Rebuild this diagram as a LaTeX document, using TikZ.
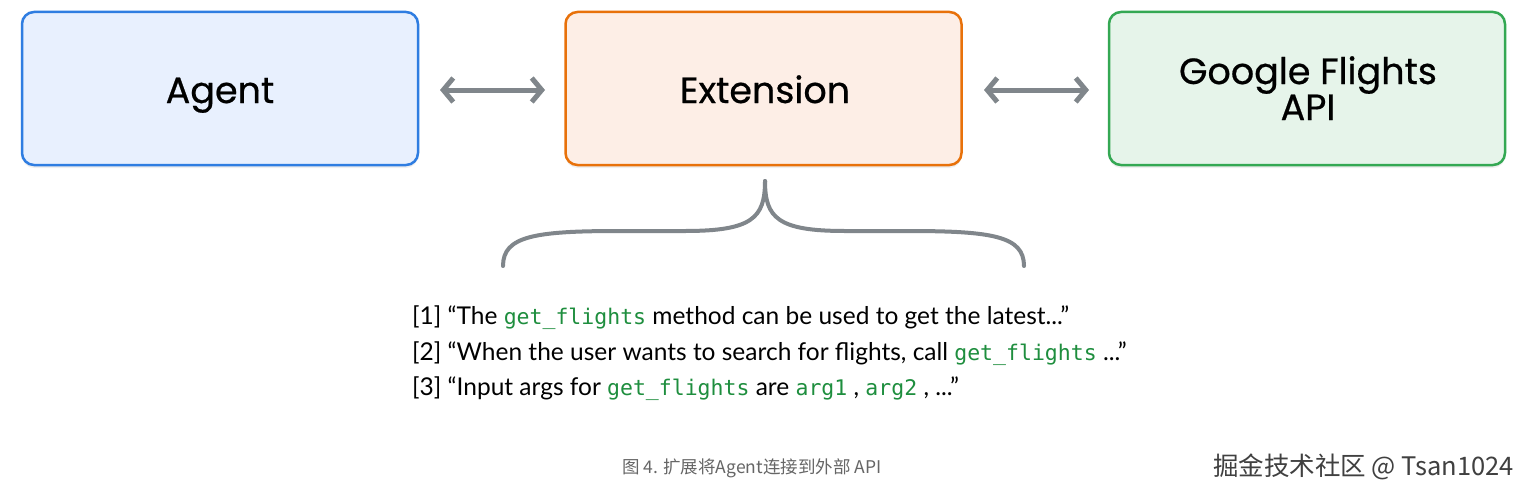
\documentclass[tikz,border=0pt]{standalone}
\usepackage{fontspec}
\setmainfont{Poppins}
\newfontfamily\labelfont[FakeBold=0.6]{Poppins}
\newfontfamily\bodyfont{Lato}
\newfontfamily\monofont{DejaVu Sans Mono}
\newfontfamily\cjkfont{Noto Sans CJK SC}
\usetikzlibrary{arrows.meta,shadows}
\definecolor{blueb}{HTML}{2F7DE1}
\definecolor{bluef}{HTML}{E8F0FE}
\definecolor{orangeb}{HTML}{E8710A}
\definecolor{orangef}{HTML}{FDEEE6}
\definecolor{greenb}{HTML}{34A853}
\definecolor{greenf}{HTML}{E6F4EA}
\definecolor{arrowgray}{HTML}{80868B}
\definecolor{codegreen}{HTML}{1E8E3E}
\definecolor{capgray}{HTML}{666666}
\newcommand{\code}[1]{{\monofont\fontsize{21.5}{24}\selectfont\color{codegreen}#1}}
\tikzset{
  box/.style={draw=#1b, fill=#1f, line width=2.5pt, rounded corners=12pt,
    minimum width=396pt, minimum height=153pt, inner sep=0pt,
    drop shadow={opacity=0.12, shadow xshift=0pt, shadow yshift=-3pt}},
  lbl/.style={anchor=base, inner sep=0pt, font=\labelfont\fontsize{36.5}{40}\selectfont},
  link/.style={arrowgray, line width=5pt, line cap=round,
    {Straight Barb[length=10pt,width=24pt]}-{Straight Barb[length=10pt,width=24pt]}},
  brace/.style={arrowgray, line width=4pt, line cap=round},
  item/.style={anchor=base west, inner sep=0pt, font=\bodyfont\fontsize{24.5}{27}\selectfont},
}
\begin{document}
\begin{tikzpicture}[x=1pt,y=-1pt]
\useasboundingbox[fill=white] (0,0) rectangle (1530,495);
\node[box=blue]   (agent) at (220,88.5) {};
\node[box=orange] (ext)   at (763.5,88.5) {};
\node[box=green]  (api)   at (1307,88.5) {};
\node[lbl] (agentlbl) at (220,103) {Agent};
\node[lbl] (extlbl)   at (765,103) {Extension};
\node[lbl] (apilbl1)  at (1308,84) {Google Flights};
\node[lbl] (apilbl2)  at (1308,120) {API};
\coordinate (a1) at (440,90);
\coordinate (a2) at (545,90);
\coordinate (b1) at (984,90);
\coordinate (b2) at (1089,90);
\draw[link] (a1) -- (a2);
\draw[link] (b1) -- (b2);
\coordinate (bl) at (503,266);
\coordinate (bc) at (765,181);
\coordinate (br) at (1024,266);
\draw[brace] (bl) .. controls (503,236) and (535,231) .. (620,231)
  -- (685,231) .. controls (752,231) and (765,218) .. (bc);
\draw[brace] (br) .. controls (1024,236) and (992,231) .. (907,231)
  -- (845,231) .. controls (778,231) and (765,218) .. (bc);
\node[item] (l1) at (412,324) {[1] “The \code{get\_flights} method can be used to get the latest...”};
\node[item] (l2) at (412,360) {[2] “When the user wants to search for flights, call \code{get\_flights} ...”};
\node[item] (l3) at (412,395) {[3] “Input args for \code{get\_flights} are \code{arg1} , \code{arg2} , ...”};
\node[anchor=base west, inner sep=0pt, text=capgray, font=\cjkfont\fontsize{17.5}{20}\selectfont] (cap) at (622,473) {图 4. 扩展将Agent连接到外部 API};
\node[anchor=base east, inner sep=0pt, text=black!75, font=\cjkfont\fontsize{25.5}{28}\selectfont] (wm) at (1514,475) {掘金技术社区 @ Tsan1024};
\end{tikzpicture}
\end{document}
